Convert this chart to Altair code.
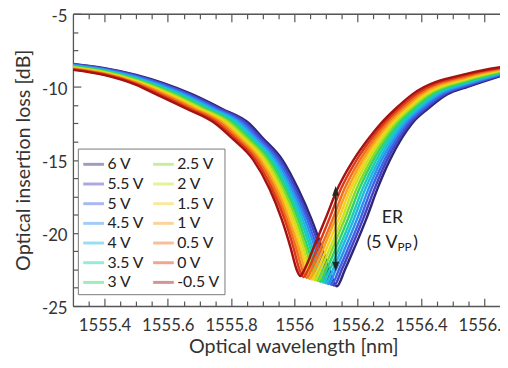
import altair as alt
import pandas as pd

# ---------------- data ----------------
voltages = ["6 V", "5.5 V", "5 V", "4.5 V", "4 V", "3.5 V", "3 V",
            "2.5 V", "2 V", "1.5 V", "1 V", "0.5 V", "0 V", "-0.5 V"]
line_colors = ["#2b2878", "#4a3fc0", "#3d63e4", "#2f8fee", "#1fb6e4", "#1ccdb6",
               "#2fd36a", "#80db2c", "#c9e11f", "#f5d01c", "#f7a31d", "#f0701f",
               "#dd3a15", "#a41311"]

# dB values on the two shoulders (fixed wavelengths)
shoulder_left_lam = [1555.30, 1555.40, 1555.50]
shoulder_right_lam = [1556.55, 1556.66]
db_at_1555_30 = [-8.43, -8.46, -8.49, -8.52, -8.55, -8.58, -8.61, -8.65, -8.68, -8.71, -8.74, -8.77, -8.80, -8.84]
db_at_1555_40 = [-8.72, -8.76, -8.79, -8.83, -8.86, -8.90, -8.94, -8.97, -9.01, -9.04, -9.08, -9.12, -9.16, -9.20]
db_at_1555_50 = [-9.18, -9.23, -9.28, -9.34, -9.39, -9.44, -9.49, -9.54, -9.59, -9.65, -9.70, -9.75, -9.81, -9.87]
db_at_1556_55 = [-9.98, -9.91, -9.85, -9.78, -9.71, -9.64, -9.58, -9.51, -9.44, -9.37, -9.31, -9.24, -9.16, -9.08]
db_at_1556_66 = [-9.20, -9.16, -9.11, -9.07, -9.03, -8.99, -8.94, -8.90, -8.86, -8.82, -8.77, -8.73, -8.68, -8.63]

# wavelengths where each curve crosses given dB levels (left flank)
left_levels = [-10.5, -11.5, -12.5, -13.5, -15.0, -17.0, -19.0, -21.0, -22.5]
lam_left_10_5 = [1555.676, 1555.667, 1555.659, 1555.650, 1555.642, 1555.633, 1555.625, 1555.616, 1555.608, 1555.599, 1555.591, 1555.582, 1555.572, 1555.562]
lam_left_11_5 = [1555.771, 1555.763, 1555.754, 1555.746, 1555.737, 1555.729, 1555.721, 1555.712, 1555.704, 1555.695, 1555.687, 1555.679, 1555.669, 1555.659]
lam_left_12_5 = [1555.857, 1555.849, 1555.841, 1555.833, 1555.825, 1555.817, 1555.808, 1555.800, 1555.792, 1555.784, 1555.776, 1555.768, 1555.759, 1555.749]
lam_left_13_5 = [1555.900, 1555.893, 1555.885, 1555.878, 1555.871, 1555.863, 1555.856, 1555.849, 1555.841, 1555.834, 1555.827, 1555.819, 1555.811, 1555.802]
lam_left_15 = [1555.962, 1555.955, 1555.948, 1555.941, 1555.934, 1555.928, 1555.921, 1555.914, 1555.907, 1555.900, 1555.893, 1555.886, 1555.878, 1555.870]
lam_left_17 = [1556.012, 1556.005, 1555.998, 1555.992, 1555.985, 1555.978, 1555.972, 1555.965, 1555.958, 1555.951, 1555.945, 1555.938, 1555.930, 1555.922]
lam_left_19 = [1556.053, 1556.046, 1556.039, 1556.032, 1556.025, 1556.018, 1556.011, 1556.004, 1555.997, 1555.990, 1555.982, 1555.975, 1555.968, 1555.959]
lam_left_21 = [1556.087, 1556.080, 1556.072, 1556.065, 1556.057, 1556.050, 1556.042, 1556.035, 1556.028, 1556.020, 1556.013, 1556.005, 1555.997, 1555.988]
lam_left_22_5 = [1556.110, 1556.102, 1556.095, 1556.087, 1556.079, 1556.071, 1556.064, 1556.056, 1556.048, 1556.041, 1556.033, 1556.025, 1556.016, 1556.007]

# resonance minimum of each curve
lam_min = [1556.134, 1556.125, 1556.117, 1556.108, 1556.100, 1556.091, 1556.082, 1556.074, 1556.065, 1556.056, 1556.048, 1556.039, 1556.029, 1556.019]
db_min = [-23.65, -23.60, -23.55, -23.49, -23.44, -23.39, -23.34, -23.28, -23.23, -23.18, -23.13, -23.07, -23.01, -22.95]

# right flank crossings
right_levels = [-22.5, -21.0, -19.0, -17.0, -15.0, -13.5, -12.5, -11.5, -10.5]
lam_right_22_5 = [1556.160, 1556.150, 1556.141, 1556.131, 1556.122, 1556.112, 1556.102, 1556.093, 1556.083, 1556.074, 1556.064, 1556.054, 1556.044, 1556.032]
lam_right_21 = [1556.190, 1556.180, 1556.171, 1556.161, 1556.151, 1556.142, 1556.132, 1556.122, 1556.113, 1556.103, 1556.093, 1556.084, 1556.073, 1556.061]
lam_right_19 = [1556.228, 1556.218, 1556.209, 1556.199, 1556.189, 1556.180, 1556.170, 1556.160, 1556.151, 1556.141, 1556.131, 1556.122, 1556.111, 1556.099]
lam_right_17 = [1556.262, 1556.253, 1556.243, 1556.234, 1556.224, 1556.215, 1556.205, 1556.196, 1556.186, 1556.177, 1556.168, 1556.158, 1556.147, 1556.136]
lam_right_15 = [1556.302, 1556.293, 1556.285, 1556.276, 1556.268, 1556.259, 1556.250, 1556.242, 1556.233, 1556.224, 1556.216, 1556.207, 1556.197, 1556.187]
lam_right_13_5 = [1556.340, 1556.332, 1556.324, 1556.317, 1556.309, 1556.301, 1556.293, 1556.285, 1556.278, 1556.270, 1556.262, 1556.254, 1556.245, 1556.236]
lam_right_12_5 = [1556.372, 1556.365, 1556.357, 1556.350, 1556.343, 1556.335, 1556.328, 1556.321, 1556.313, 1556.306, 1556.299, 1556.291, 1556.283, 1556.274]
lam_right_11_5 = [1556.422, 1556.414, 1556.407, 1556.399, 1556.391, 1556.384, 1556.376, 1556.368, 1556.361, 1556.353, 1556.346, 1556.338, 1556.329, 1556.320]
lam_right_10_5 = [1556.484, 1556.476, 1556.468, 1556.459, 1556.451, 1556.443, 1556.435, 1556.426, 1556.418, 1556.410, 1556.402, 1556.393, 1556.384, 1556.374]

# axis ticks
x_major = [1555.4, 1555.6, 1555.8, 1556.0, 1556.2, 1556.4, 1556.6]
x_minor = [1555.35, 1555.45, 1555.5, 1555.55, 1555.65, 1555.7, 1555.75, 1555.85, 1555.9, 1555.95,
           1556.05, 1556.1, 1556.15, 1556.25, 1556.3, 1556.35, 1556.45, 1556.5, 1556.55]
y_major = [-25, -20, -15, -10, -5]
y_minor = [-6.25, -7.5, -8.75, -11.25, -12.5, -13.75, -16.25, -17.5, -18.75, -21.25, -22.5, -23.75]

# ER annotation
arrow_lam = [1556.1305]
arrow_top_db = [-17.12]
arrow_bottom_db = [-22.30]
er_lam = [1556.31]
er_db = [-19.0]
vpp_lam = [1556.326]
vpp_db = [-20.7]
close_lam = [1556.391]

# ---------------- build table ----------------
left_lists = [lam_left_10_5, lam_left_11_5, lam_left_12_5, lam_left_13_5, lam_left_15,
              lam_left_17, lam_left_19, lam_left_21, lam_left_22_5]
right_lists = [lam_right_22_5, lam_right_21, lam_right_19, lam_right_17, lam_right_15,
               lam_right_13_5, lam_right_12_5, lam_right_11_5, lam_right_10_5]
left_sh = [db_at_1555_30, db_at_1555_40, db_at_1555_50]
right_sh = [db_at_1556_55, db_at_1556_66]

rows = []
for i, v in enumerate(voltages):
    pts = []
    for lam, arr in zip(shoulder_left_lam, left_sh):
        pts.append((lam, arr[i]))
    for lev, arr in zip(left_levels, left_lists):
        pts.append((arr[i], lev))
    pts.append((lam_min[i], db_min[i]))
    for lev, arr in zip(right_levels, right_lists):
        pts.append((arr[i], lev))
    for lam, arr in zip(shoulder_right_lam, right_sh):
        pts.append((lam, arr[i]))
    for lam, db in pts:
        rows.append({"lam": lam, "dB": db, "V": v, "k": i})
df = pd.DataFrame(rows)

FONT = "Lato"
xs = alt.Scale(domain=[1555.3, 1556.65], nice=False, zero=False)
ys = alt.Scale(domain=[-25, -5], nice=False, zero=False)
AX = "#555555"

lines = alt.Chart(df).mark_line(interpolate="monotone", strokeWidth=2.5, clip=True).encode(
    x=alt.X("lam:Q", scale=xs, axis=alt.Axis(
        orient="bottom", values=x_major, labelExpr="'' + datum.value", ticks=False, tickSize=0,
        labelFont=FONT, labelFontSize=17, labelColor="#333", labelPadding=12,
        domain=True, domainColor=AX, domainWidth=1.3, grid=False,
        title="Optical wavelength [nm]", titleFont=FONT, titleFontSize=20, titleX=224,
        titleFontWeight="normal", titleColor="#333", titlePadding=3)),
    y=alt.Y("dB:Q", scale=ys, axis=alt.Axis(
        orient="left", values=y_major, labelExpr="'' + datum.value", ticks=False, tickSize=0,
        labelFont=FONT, labelFontSize=17, labelColor="#333", labelPadding=6, labelOffset=3,
        domain=True, domainColor=AX, domainWidth=1.3, grid=False,
        title="Optical insertion loss [dB]", titleFont=FONT, titleFontSize=20,
        titleFontWeight="normal", titleColor="#333", titlePadding=8)),
    color=alt.Color("V:N", scale=alt.Scale(domain=voltages, range=line_colors), legend=alt.Legend(
        title=None, orient="none", legendX=5, legendY=137, columns=2, symbolType="stroke",
        symbolSize=441, symbolStrokeWidth=3, symbolOpacity=0.45, labelFont=FONT, labelFontSize=16,
        labelColor="#222", strokeColor="#777", fillColor="white", padding=4, rowPadding=0,
        columnPadding=2, labelOffset=2)),
    detail="k:O",
)


def tick_layer(xaxis, yaxis):
    return alt.Chart(df).mark_point(opacity=0).encode(
        x=alt.X("lam:Q", scale=xs, axis=xaxis),
        y=alt.Y("dB:Q", scale=ys, axis=yaxis),
    )


def tk(orient, values, size, domain=False, ticks=True):
    return alt.Axis(orient=orient, values=values, offset=-size if ticks else 0, tickSize=size,
                    ticks=ticks, tickColor=AX, tickWidth=1.2, labels=False, domain=domain,
                    domainColor=AX, domainWidth=1.3, grid=False, title=None)


t1 = tick_layer(tk("bottom", x_major, 8), tk("left", y_major, 8))
t2 = tick_layer(tk("bottom", x_minor, 5), tk("left", y_minor, 5))
t3 = tick_layer(tk("top", x_major, 8), None)
t4 = tick_layer(tk("top", x_minor, 5), None)
t5 = tick_layer(tk("top", x_major, 0, domain=True, ticks=False), None)

ann_df = pd.DataFrame({"lam": arrow_lam, "top": arrow_top_db, "bot": arrow_bottom_db})
ARROW = "#1c2a22"
X_ = lambda f: alt.X(f, scale=xs, axis=None)
Y_ = lambda f: alt.Y(f, scale=ys, axis=None)
arrow_rule = alt.Chart(ann_df).mark_rule(color=ARROW, strokeWidth=1.8).encode(
    x=X_("lam:Q"), y=Y_("top:Q"), y2="bot:Q")
head_up = alt.Chart(ann_df).mark_point(shape="M0,-1L0.7,1L-0.7,1Z", filled=True, size=100,
                                       color=ARROW, opacity=1).encode(x=X_("lam:Q"), y=Y_("top:Q"))
head_dn = alt.Chart(ann_df).mark_point(shape="M0,1L0.7,-1L-0.7,-1Z", filled=True, size=100,
                                       color=ARROW, opacity=1).encode(x=X_("lam:Q"), y=Y_("bot:Q"))

er_df = pd.DataFrame({"lam": er_lam, "dB": er_db, "t": ["ER"]})
er_text = alt.Chart(er_df).mark_text(font=FONT, fontSize=18, color="#222", align="center",
                                     baseline="middle").encode(x=X_("lam:Q"), y=Y_("dB:Q"), text="t:N")
vpp_df = pd.DataFrame({"lam": vpp_lam, "dB": vpp_db, "t": ["(5 V"]})
vpp_text = alt.Chart(vpp_df).mark_text(font=FONT, fontSize=18, color="#222", align="right",
                                       baseline="middle").encode(x=X_("lam:Q"), y=Y_("dB:Q"), text="t:N")
pp_df = pd.DataFrame({"lam": vpp_lam, "dB": vpp_db, "t": ["PP"]})
pp_text = alt.Chart(pp_df).mark_text(font=FONT, fontSize=12, color="#222", align="left",
                                     baseline="middle", dx=0, dy=4).encode(
    x=X_("lam:Q"), y=Y_("dB:Q"), text="t:N")
cl_df = pd.DataFrame({"lam": close_lam, "dB": vpp_db, "t": [")"]})
cl_text = alt.Chart(cl_df).mark_text(font=FONT, fontSize=18, color="#222", align="right",
                                     baseline="middle").encode(x=X_("lam:Q"), y=Y_("dB:Q"), text="t:N")

chart = alt.layer(lines, t1, t2, t3, t4, t5, arrow_rule, head_up, head_dn,
                  er_text, vpp_text, pp_text, cl_text).resolve_axis(
    x="independent", y="independent").properties(
    width=434, height=297,
    autosize=alt.AutoSizeParams(type="none"),
    padding={"left": 66, "top": 3, "right": 0, "bottom": 52},
).configure_view(stroke=None).configure(background="white")

chart.save("out.html", embed_options={"renderer": "svg", "actions": False})
